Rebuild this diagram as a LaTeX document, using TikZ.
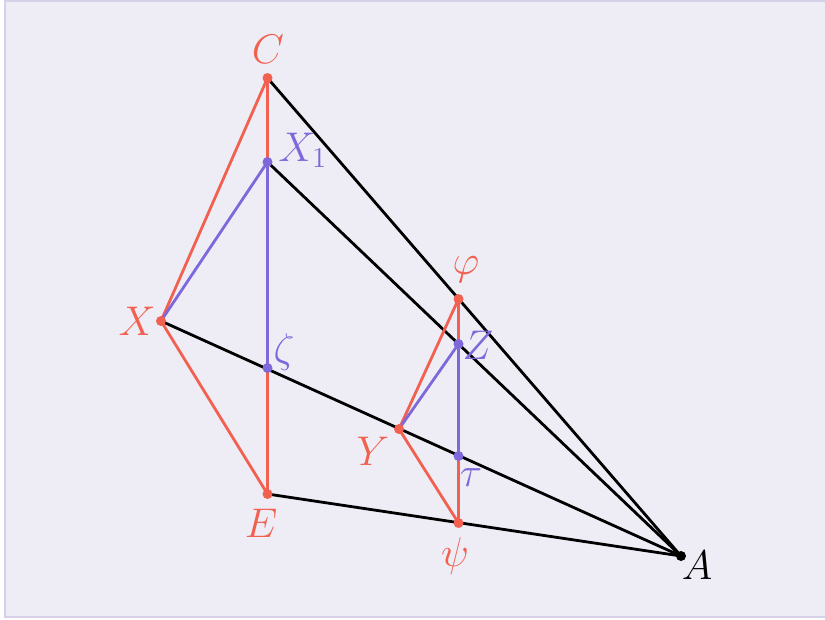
\documentclass[tikz,border=0pt]{standalone}
\usepackage{tikz}
\definecolor{bgc}{HTML}{EEEDF6}
\definecolor{bdc}{HTML}{D4D1E8}
\definecolor{rc}{HTML}{F2604F}
\definecolor{pc}{HTML}{7F68D9}
\tikzset{
  blk/.style={line width=2.8pt,black},
  red/.style={line width=2.8pt,rc},
  pur/.style={line width=2.8pt,pc},
  pt/.style={circle,inner sep=0pt,minimum size=10pt,fill=#1},
  lbl/.style={text=#1,font=\huge,scale=2,inner sep=0pt}
}
\begin{document}
\begin{tikzpicture}[x=1pt,y=-1pt]
\useasboundingbox (0,0) rectangle (825,619);
\fill[bgc] (5,1) rectangle (840,617);
\draw[bdc,line width=2pt] (840,1) -- (5,1) -- (5,617) -- (840,617);
\coordinate (C) at (267.5,78);
\coordinate (X1) at (267.5,162);
\coordinate (X) at (161,321);
\coordinate (Zt) at (267.5,368);
\coordinate (E) at (267.5,494);
\coordinate (A) at (681,556);
\coordinate (Ph) at (458.5,299);
\coordinate (Z) at (458.5,344);
\coordinate (Y) at (399,429);
\coordinate (Ta) at (458.5,456);
\coordinate (Ps) at (458.5,523);
% black
\draw[blk] (C) -- (A);
\draw[blk] (X1) -- (A);
\draw[blk] (X) -- (A);
\draw[blk] (E) -- (A);
% red
\draw[red] (C) -- (X) -- (E);
\draw[red] (C) -- (X1);
\draw[red] (Zt) -- (E);
\draw[red] (Ph) -- (Y) -- (Ps);
\draw[red] (Ph) -- (Z);
\draw[red] (Ta) -- (Ps);
% purple
\draw[pur] (X) -- (X1) -- (Zt);
\draw[pur] (Y) -- (Z) -- (Ta);
% dots
\foreach \p in {C,X,E,Ph,Y,Ps} \node[pt=rc] (d\p) at (\p) {};
\foreach \p in {X1,Zt,Z,Ta} \node[pt=pc] (d\p) at (\p) {};
\node[pt=black] (dA) at (A) {};
% labels
\node[lbl=rc] (lC) at (268,49) {$C$};
\node[lbl=pc,anchor=west] (lX1) at (278,150) {$X_1$};
\node[lbl=pc] (lZt) at (284,352) {$\zeta$};
\node[lbl=rc] (lE) at (261,523) {$E$};
\node[lbl=rc] (lX) at (137,321) {$X$};
\node[lbl=rc] (lPh) at (466,270) {$\varphi$};
\node[lbl=pc] (lZ) at (478,345) {$Z$};
\node[lbl=rc] (lY) at (373,451) {$Y$};
\node[lbl=pc] (lTa) at (471,478) {$\tau$};
\node[lbl=rc] (lPs) at (455,556) {$\psi$};
\node[lbl=black] (lA) at (697,565) {$A$};
\end{tikzpicture}
\end{document}
